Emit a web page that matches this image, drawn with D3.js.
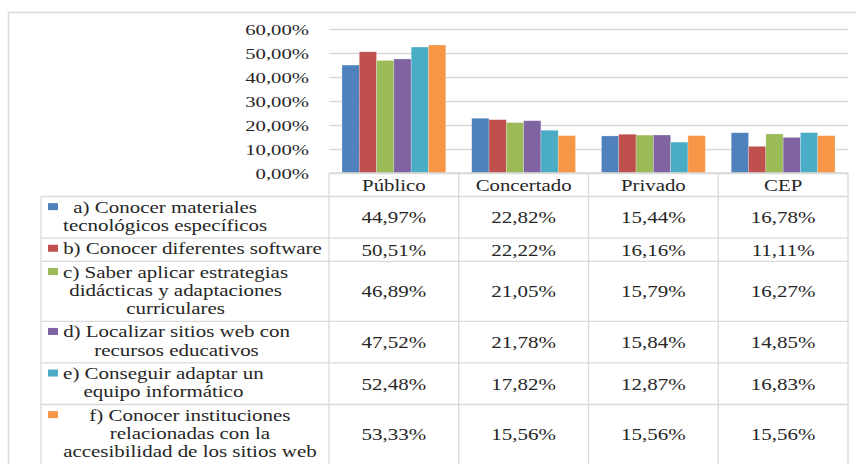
<!DOCTYPE html>
<html>
  <head>
    <meta charset="utf-8">
    <title>Competencias por tipo de centro</title>
    <style>
      body { margin: 0; background: #fff; }
    </style>
  </head>
  <body>
    <div id="vis"></div>
    <script src="https://d3js.org/d3.v7.min.js"></script>
    <script>
    // data
    let categories = ["Público", "Concertado", "Privado", "CEP"];
    let seriesKeys = ["a", "b", "c", "d", "e", "f"];
    let seriesLabels = [
      ["a) Conocer materiales", "tecnológicos específicos"],
      ["b) Conocer diferentes software"],
      ["c) Saber aplicar estrategias", "didácticas y adaptaciones", "curriculares"],
      ["d) Localizar sitios web con", "recursos educativos"],
      ["e) Conseguir adaptar un", "equipo informático"],
      ["f) Conocer instituciones", "relacionadas con la", "accesibilidad de los sitios web"]
    ];
    let valuesA = [44.97, 22.82, 15.44, 16.78];
    let valuesB = [50.51, 22.22, 16.16, 11.11];
    let valuesC = [46.89, 21.05, 15.79, 16.27];
    let valuesD = [47.52, 21.78, 15.84, 14.85];
    let valuesE = [52.48, 17.82, 12.87, 16.83];
    let valuesF = [53.33, 15.56, 15.56, 15.56];
    let yTicks = [0, 10, 20, 30, 40, 50, 60];
    let colors = ["#4f81bd", "#c0504d", "#9bbb59", "#8064a2", "#4bacc6", "#f79646"];

    let series = [valuesA, valuesB, valuesC, valuesD, valuesE, valuesF];

    let w = 856, h = 464;
    let plotLeft = 329, plotRight = 848, plotTop = 29, plotBottom = 173;
    let tableLeft = 41;
    let lineH = 18.3;
    let grid = "#d9d9d9";
    let ink = "#262626";
    let serif = "'Liberation Serif', 'Times New Roman', serif";
    let sx = 1.31; // the original text is stretched sideways

    let es = d3.formatLocale({decimal: ",", thousands: ".", grouping: [3], currency: ["", "€"]});
    let pct = function(v) { return es.format(".2%")(v / 100); };

    let svg = d3.select("#vis").append("svg")
                .attr("width", w)
                .attr("height", h)
                .style("font-family", serif);

    // chart border
    svg.append("rect")
       .attr("x", 8.5).attr("y", 12.5)
       .attr("width", 900).attr("height", 500)
       .style("fill", "none")
       .style("stroke", grid)
       .style("stroke-width", 1.5);

    let x = d3.scaleBand().domain(categories).range([plotLeft, plotRight]);
    let xs = d3.scaleBand().domain(seriesKeys).range([0, x.bandwidth()]).paddingOuter(0.75);
    let y = d3.scaleLinear().domain([0, 60]).range([plotBottom, plotTop]);

    // y axis with gridlines
    let yAxis = svg.append("g")
       .attr("transform", "translate(" + plotLeft + ",0)")
       .call(d3.axisLeft(y).tickValues(yTicks).tickFormat(pct)
               .tickSizeInner(-(plotRight - plotLeft)).tickSizeOuter(0));
    yAxis.select(".domain").remove();
    yAxis.selectAll(".tick line").style("stroke", grid).style("stroke-width", 1.3);
    yAxis.selectAll(".tick text")
         .attr("x", null).attr("dy", null)
         .attr("transform", "translate(-20,5) scale(1.38,1)")
         .style("font-size", "15px")
         .style("font-family", serif)
         .style("fill", ink);

    // bars
    series.forEach(function(vals, si) {
      svg.append("g").selectAll("rect")
         .data(vals)
         .enter().append("rect")
         .attr("x", function(d, i) { return x(categories[i]) + xs(seriesKeys[si]); })
         .attr("y", function(d) { return y(d); })
         .attr("width", xs.bandwidth())
         .attr("height", function(d) { return y(0) - y(d); })
         .style("fill", colors[si])
         .style("stroke", "#fff")
         .style("stroke-opacity", 0.4)
         .style("stroke-width", 0.6);
    });

    // table rows, height from the number of text lines
    let rows = [];
    let rowTop = plotBottom + 23.5;
    seriesLabels.forEach(function(lab) {
      let rh = 5 + lineH * lab.length;
      rows.push({y0: rowTop, y1: rowTop + rh});
      rowTop += rh;
    });

    let lines = svg.append("g").style("stroke", grid).style("stroke-width", 1.3);
    // vertical lines of the value columns
    categories.concat([null]).forEach(function(c) {
      let xx = c ? x(c) : plotRight;
      lines.append("line").attr("x1", xx).attr("x2", xx).attr("y1", plotBottom).attr("y2", h + 10);
    });
    lines.append("line").attr("x1", tableLeft).attr("x2", tableLeft).attr("y1", rows[0].y0).attr("y2", h + 10);
    lines.append("line").attr("x1", plotLeft).attr("x2", plotRight).attr("y1", plotBottom).attr("y2", plotBottom);
    rows.forEach(function(r) {
      lines.append("line").attr("x1", tableLeft).attr("x2", plotRight).attr("y1", r.y0).attr("y2", r.y0);
    });

    // header
    svg.append("g").selectAll("text")
       .data(categories)
       .enter().append("text")
       .attr("transform", function(d) { return "translate(" + (x(d) + x.bandwidth() / 2) + ",190.5) scale(1.3,1)"; })
       .attr("text-anchor", "middle")
       .style("font-size", "16px")
       .style("fill", ink)
       .text(function(d) { return d; });

    // values
    series.forEach(function(vals, si) {
      let r = rows[si];
      let cy = (r.y0 + r.y1) / 2;
      svg.append("g").selectAll("text")
         .data(vals)
         .enter().append("text")
         .attr("transform", function(d, i) { return "translate(" + (x(categories[i]) + x.bandwidth() / 2) + "," + (cy + 5.8) + ") scale(" + sx + ",1)"; })
         .attr("text-anchor", "middle")
         .style("font-size", "16px")
         .style("fill", ink)
         .text(pct);
    });

    // legend cells
    seriesLabels.forEach(function(lab, si) {
      let r = rows[si];
      let cy = (r.y0 + r.y1) / 2;
      let g = svg.append("g");
      let first = cy + 4.5 - (lab.length - 1) / 2 * lineH;
      g.append("rect")
       .attr("x", 48).attr("y", first - 9.5)
       .attr("width", 10).attr("height", 7)
       .style("fill", colors[si]);
      let texts = g.selectAll("text")
         .data(lab)
         .enter().append("text")
         .attr("text-anchor", "middle")
         .style("font-size", "16px")
         .style("fill", ink)
         .text(function(d) { return d; });
      let widest = d3.max(texts.nodes(), function(n) { return n.getComputedTextLength(); }) * sx;
      texts.attr("transform", function(d, i) {
        return "translate(" + (63 + widest / 2) + "," + (first + i * lineH) + ") scale(" + sx + ",1)";
      });
    });
    </script>
  </body>
</html>
